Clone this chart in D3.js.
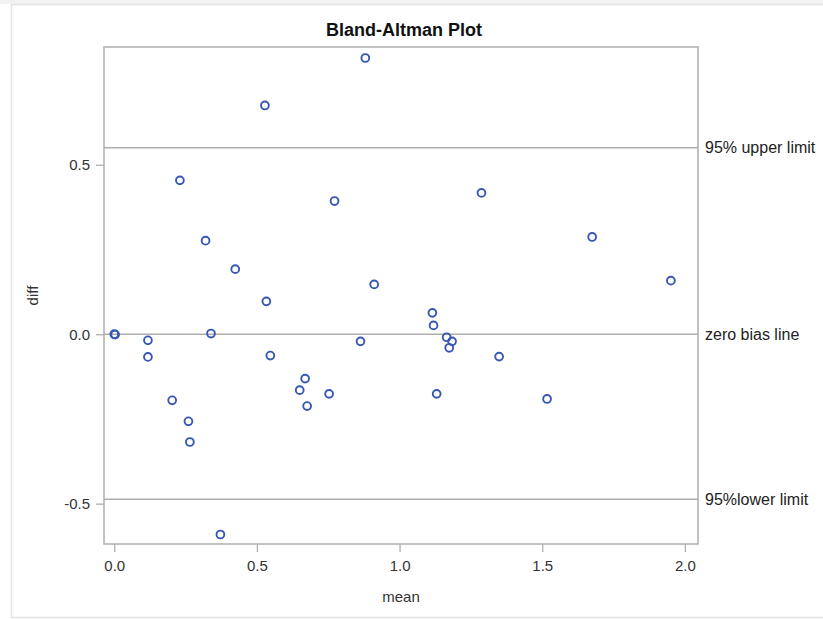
<!DOCTYPE html>
<html>
<head>
<meta charset="utf-8">
<script src="https://cdn.jsdelivr.net/npm/d3@7"></script>
<style>
  body { margin: 0; background: #fff; }
  text { font-family: "Liberation Sans", Arial, sans-serif; }
</style>
</head>
<body>
<svg id="svgBland" width="823" height="619"></svg>
<script>
// data
var meanVals = [0.000, 0.003, 0.118, 0.118, 0.203, 0.230, 0.260, 0.265, 0.320, 0.339,
                0.372, 0.424, 0.528, 0.533, 0.547, 0.650, 0.669, 0.676, 0.753, 0.772,
                0.863, 0.880, 0.911, 1.115, 1.119, 1.130, 1.165, 1.174, 1.184, 1.287,
                1.349, 1.517, 1.675, 1.951];
var diffVals = [0.000, -0.001, -0.018, -0.067, -0.195, 0.454, -0.257, -0.318, 0.276, 0.002,
                -0.591, 0.192, 0.675, 0.097, -0.063, -0.165, -0.131, -0.212, -0.176, 0.393,
                -0.021, 0.815, 0.147, 0.063, 0.026, -0.176, -0.009, -0.040, -0.021, 0.417,
                -0.066, -0.191, 0.287, 0.158];
var refValues = [0.55, 0, -0.487];
var refLabels = ["95% upper limit", "zero bias line", "95%lower limit"];
var xTicks = [0, 0.5, 1.0, 1.5, 2.0];
var yTicks = [-0.5, 0, 0.5];

var svg = d3.select("#svgBland");

// outer frame of the image
svg.append("rect").attr("x", 0).attr("y", 0).attr("width", 823).attr("height", 4)
   .attr("fill", "#f2f2f2");
svg.append("rect").attr("x", 11.5).attr("y", 4.5).attr("width", 830).attr("height", 613)
   .attr("fill", "none").attr("stroke", "#e2e2e2").attr("stroke-width", 1.5);

var x = d3.scaleLinear().domain([-0.036, 2.046]).range([104, 698]),
    y = d3.scaleLinear().domain([-0.619, 0.8475]).range([544, 47]);

var frameCol = "#aeaeae";
var fmt = function(d) { return d.toFixed(1); };  // plain hyphen for negatives

svg.append("text")
   .attr("x", 404).attr("y", 36)
   .attr("text-anchor", "middle")
   .attr("font-size", "18px").attr("font-weight", "bold")
   .attr("fill", "#111")
   .text("Bland-Altman Plot");

// axes
var xAxis = svg.append("g")
   .attr("transform", "translate(0," + y.range()[0] + ")")
   .call(d3.axisBottom(x).tickValues(xTicks).tickFormat(fmt).tickSize(8).tickSizeOuter(0));
var yAxis = svg.append("g")
   .attr("transform", "translate(" + x.range()[0] + ",0)")
   .call(d3.axisLeft(y).tickValues(yTicks).tickFormat(fmt).tickSize(8).tickSizeOuter(0));

[xAxis, yAxis].forEach(function(a) {
    a.select(".domain").remove();
    a.selectAll(".tick line").attr("stroke", frameCol).attr("stroke-width", 1.3);
    a.selectAll(".tick text")
     .attr("font-size", "15px").attr("fill", "#333")
     .attr("font-family", "'Liberation Sans', Arial, sans-serif");
});
xAxis.selectAll(".tick text").attr("dy", "0.71em").attr("y", 16);
yAxis.selectAll(".tick text").attr("x", -14);

// reference lines
svg.selectAll(".ref")
   .data(refValues)
   .enter().append("line")
   .attr("class", "ref")
   .attr("x1", x.range()[0]).attr("x2", x.range()[1])
   .attr("y1", function(d) { return y(d); })
   .attr("y2", function(d) { return y(d); })
   .attr("stroke", frameCol).attr("stroke-width", 1.5);

svg.selectAll(".refLabel")
   .data(refValues)
   .enter().append("text")
   .attr("class", "refLabel")
   .attr("x", x.range()[1] + 7)
   .attr("y", function(d) { return y(d); })
   .attr("dy", "0.35em")
   .attr("font-size", "16px").attr("fill", "#222")
   .text(function(d, i) { return refLabels[i]; });

// plot frame
svg.append("rect")
   .attr("x", x.range()[0]).attr("y", y.range()[1])
   .attr("width", x.range()[1] - x.range()[0])
   .attr("height", y.range()[0] - y.range()[1])
   .attr("fill", "none").attr("stroke", frameCol).attr("stroke-width", 1.5);

// points
svg.selectAll(".pt")
   .data(meanVals)
   .enter().append("circle")
   .attr("class", "pt")
   .attr("cx", function(d) { return x(d); })
   .attr("cy", function(d, i) { return y(diffVals[i]); })
   .attr("r", 3.9)
   .attr("fill", "none").attr("stroke", "#3757b4").attr("stroke-width", 1.9);

// axis titles
svg.append("text")
   .attr("x", (x.range()[0] + x.range()[1]) / 2).attr("y", 602)
   .attr("text-anchor", "middle")
   .attr("font-size", "15px").attr("fill", "#333")
   .text("mean");

svg.append("text")
   .attr("transform", "translate(38," + (y.range()[0] + y.range()[1]) / 2 + ") rotate(-90)")
   .attr("text-anchor", "middle")
   .attr("font-size", "15px").attr("fill", "#333")
   .text("diff");
</script>
</body>
</html>
